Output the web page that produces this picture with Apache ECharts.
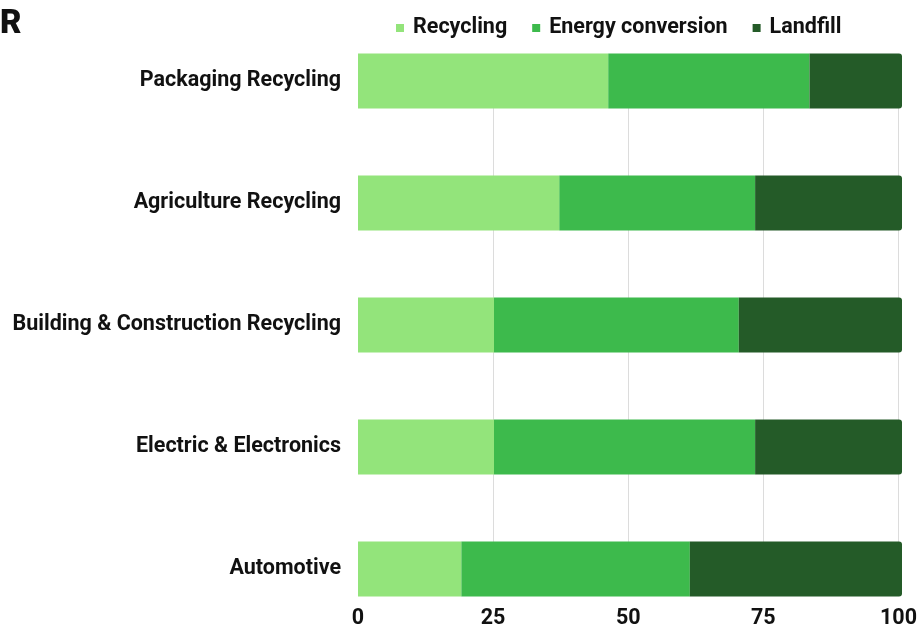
<!DOCTYPE html>
<html>
<head>
<meta charset="utf-8">
<script src="https://cdn.jsdelivr.net/npm/echarts@6/dist/echarts.min.js"></script>
<style>
  html, body { margin: 0; padding: 0; background: #ffffff; }
  #chart { width: 920px; height: 630px; }
</style>
</head>
<body>
<div id="chart"></div>
<script>
// Plastic end-of-life shares (%) by sector, top to bottom
const categories = [
  'Packaging Recycling',
  'Agriculture Recycling',
  'Building & Construction Recycling',
  'Electric & Electronics',
  'Automotive'
];
const recycling = [46, 37, 25, 25, 19];
const energyConversion = [37, 36, 45, 48, 42];
const landfill = [17, 27, 30, 27, 39];
const xTicks = [0, 25, 50, 75, 100];

const FONT = 'Roboto, "Noto Sans", sans-serif';
const TEXT_SIZE = 21.5;
const chart = echarts.init(document.getElementById('chart'));

const barBase = {
  type: 'bar',
  stack: 'total',
  barWidth: 55,
  emphasis: { disabled: true }
};

chart.setOption({
  animation: false,
  title: {
    text: 'R',
    left: -5,
    top: 3,
    textStyle: { fontFamily: FONT, fontWeight: 900, fontSize: 33, color: '#111' }
  },
  legend: {
    left: 391,
    top: 12,
    icon: 'rect',
    itemWidth: 8,
    itemHeight: 8,
    itemGap: 25,
    textStyle: {
      fontFamily: FONT, fontWeight: 'bold', fontSize: TEXT_SIZE, color: '#111',
      padding: [0, 0, 0, 4]
    },
    data: ['Recycling', 'Energy conversion', 'Landfill']
  },
  // grid 0 holds the bars (full category bands); grid 1 carries the visible value axis
  grid: [
    { left: 358, right: 18, top: 20, height: 612.5 },
    { left: 358, right: 18, top: 54, height: 544 }
  ],
  xAxis: [
    {
      type: 'value',
      gridIndex: 0,
      min: xTicks[0],
      max: xTicks[xTicks.length - 1],
      interval: 25,
      show: false
    },
    {
      type: 'value',
      gridIndex: 1,
      min: xTicks[0],
      max: xTicks[xTicks.length - 1],
      interval: 25,
      z: 0,
      axisLine: { show: false },
      axisTick: { show: false },
      splitLine: {
        show: true,
        lineStyle: { color: ['rgba(0,0,0,0)', '#dcdcdc', '#dcdcdc', '#dcdcdc', '#dcdcdc'], width: 1 }
      },
      axisLabel: {
        margin: 18,
        fontFamily: FONT,
        fontWeight: 'bold',
        fontSize: TEXT_SIZE,
        color: '#111'
      }
    }
  ],
  yAxis: [
    {
      type: 'category',
      gridIndex: 0,
      inverse: true,
      data: categories,
      axisLine: { show: false },
      axisTick: { show: false },
      axisLabel: {
        margin: 17,
        padding: [7, 0, 0, 0],
        fontFamily: FONT,
        fontWeight: 'bold',
        fontSize: TEXT_SIZE,
        color: '#111'
      }
    },
    {
      type: 'value',
      gridIndex: 1,
      show: false
    }
  ],
  series: [
    Object.assign({}, barBase, {
      name: 'Recycling',
      data: recycling,
      itemStyle: { color: '#93e47b' }
    }),
    Object.assign({}, barBase, {
      name: 'Energy conversion',
      data: energyConversion,
      itemStyle: { color: '#3dba4c' }
    }),
    Object.assign({}, barBase, {
      name: 'Landfill',
      data: landfill,
      itemStyle: { color: '#245b28', borderRadius: [0, 3, 3, 0] }
    })
  ]
});
</script>
</body>
</html>
